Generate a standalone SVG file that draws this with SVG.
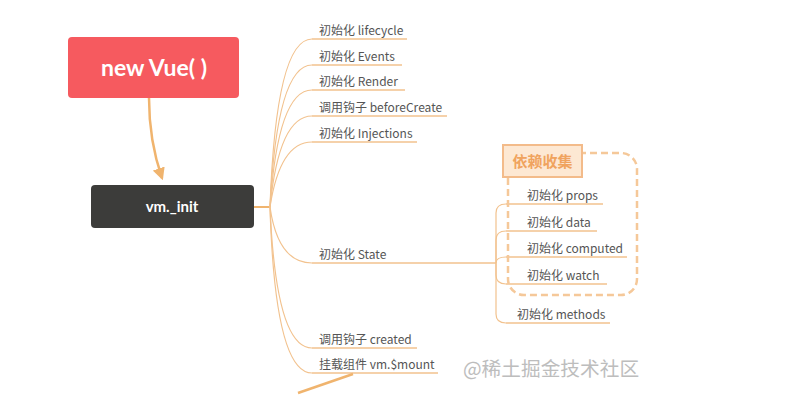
<svg xmlns="http://www.w3.org/2000/svg" width="789" height="419" viewBox="0 0 789 419">
<defs>
<style>
.lbl{font-family:"Noto Sans CJK SC","Liberation Sans",sans-serif;font-size:12px;fill:#555555}
.ln{fill:none;stroke:#f2c28e;stroke-width:1.2}
.ul{fill:none;stroke:#f2c28e;stroke-width:1.6}
</style>
<marker id="ah" viewBox="0 0 10 10" refX="8" refY="5" markerWidth="5" markerHeight="5" orient="auto" markerUnits="strokeWidth">
<path d="M0,0 L10,5 L0,10 z" fill="#f0b46e"/>
</marker>
</defs>
<rect width="789" height="419" fill="#ffffff"/>

<g id="connectors">
<path d="M149,98 C149,130 154,155 162,178" fill="none" stroke="#f0b46e" stroke-width="2.5" marker-end="url(#ah)"/>
<path d="M254,207 H270" fill="none" stroke="#f0b46e" stroke-width="2"/>
<path class="ln" d="M270,207 Q276,39 312,39"/><path class="ul" d="M312,39 H407"/>
<path class="ln" d="M270,207 Q277,65 312,65"/><path class="ul" d="M312,65 H402"/>
<path class="ln" d="M270,207 Q278,90 312,90"/><path class="ul" d="M312,90 H405"/>
<path class="ln" d="M270,207 Q279,116 312,116"/><path class="ul" d="M312,116 H447"/>
<path class="ln" d="M270,207 Q280,142 312,142"/><path class="ul" d="M312,142 H417"/>
<path class="ln" d="M270,207 Q278,263 312,263"/><path class="ul" d="M312,263 H496"/>
<path class="ln" d="M270,207 Q276,348 312,348"/><path class="ul" d="M312,348 H417"/>
<path class="ln" d="M270,207 Q275,373 312,373"/><path class="ul" d="M312,373 H438"/>
<path d="M353,374 L298,393" fill="none" stroke="#f0b46e" stroke-width="2.5"/>
<path class="ln" d="M496,263 V213 Q496,204 506,204"/><path class="ul" d="M506,204 H603"/>
<path class="ln" d="M496,263 V240 Q496,231 506,231"/><path class="ul" d="M506,231 H597"/>
<path class="ln" d="M496,263 Q496,257 506,257"/><path class="ul" d="M506,257 H627"/>
<path class="ln" d="M496,263 V275 Q496,284 506,284"/><path class="ul" d="M506,284 H607"/>
<path class="ln" d="M496,263 V314 Q496,323 506,323"/><path class="ul" d="M506,323 H610"/>
</g>

<g id="node-new-vue">
<rect x="68" y="37" width="171" height="61" rx="4" fill="#f65a5f"/>
<text x="154" y="76" text-anchor="middle" font-family="Lato,'Liberation Sans',sans-serif" font-size="23" font-weight="bold" fill="#ffffff">new Vue( )</text>
</g>

<g id="node-vm-init">
<rect x="91" y="185" width="163" height="43" rx="4" fill="#3c3c3a"/>
<text x="172" y="212" text-anchor="middle" font-family="Lato,'Liberation Sans',sans-serif" font-size="15" font-weight="bold" fill="#ffffff">vm._init</text>
</g>

<g id="node-lifecycle"><text class="lbl" x="319" y="35">初始化 lifecycle</text></g>
<g id="node-events"><text class="lbl" x="319" y="61">初始化 Events</text></g>
<g id="node-render"><text class="lbl" x="319" y="86">初始化 Render</text></g>
<g id="node-beforecreate"><text class="lbl" x="319" y="112">调用钩子 beforeCreate</text></g>
<g id="node-injections"><text class="lbl" x="319" y="138">初始化 Injections</text></g>
<g id="node-state"><text class="lbl" x="319" y="259">初始化 State</text></g>
<g id="node-created"><text class="lbl" x="319" y="344">调用钩子 created</text></g>
<g id="node-mount"><text class="lbl" x="319" y="369">挂载组件 vm.$mount</text></g>

<g id="group-dep">
<rect x="508" y="153" width="129" height="142" rx="16" fill="none" stroke="#f5c899" stroke-width="2.5" stroke-dasharray="7,4"/>
<rect x="503" y="145" width="79" height="32" fill="#fde8d3" stroke="#f3bb8a" stroke-width="2"/>
<text x="542.5" y="167" text-anchor="middle" font-family="'Noto Sans CJK SC',sans-serif" font-size="15" font-weight="bold" fill="#f0a35e">依赖收集</text>
</g>

<g id="node-props"><text class="lbl" x="527" y="200">初始化 props</text></g>
<g id="node-data"><text class="lbl" x="527" y="227">初始化 data</text></g>
<g id="node-computed"><text class="lbl" x="527" y="253">初始化 computed</text></g>
<g id="node-watch"><text class="lbl" x="527" y="280">初始化 watch</text></g>
<g id="node-methods"><text class="lbl" x="517" y="319">初始化 methods</text></g>

<text x="463" y="376" font-family="'Noto Sans CJK SC',sans-serif" font-size="19.7" fill="#bdbdbd">@稀土掘金技术社区</text>
</svg>
